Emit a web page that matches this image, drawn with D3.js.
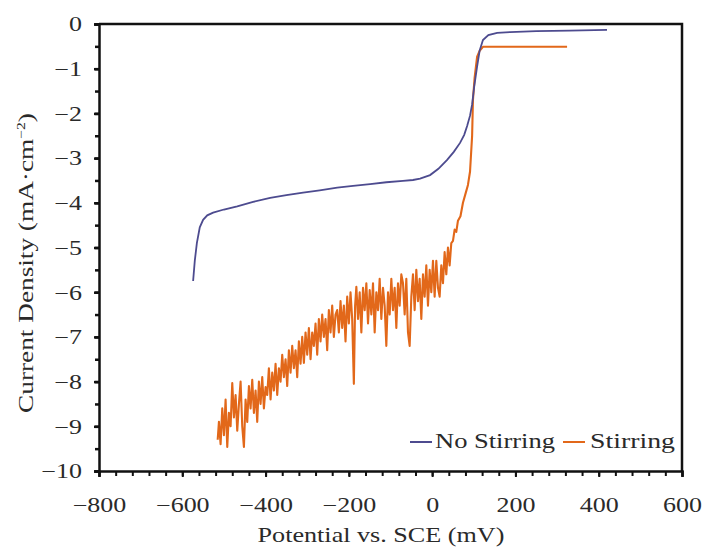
<!DOCTYPE html>
<html>
<head>
<meta charset="utf-8">
<script src="https://cdn.jsdelivr.net/npm/d3@7"></script>
<style>
  body { margin: 0; background: #fff; }
  text { font-family: "Liberation Serif", "DejaVu Serif", serif; fill: #2a2a2a; }
</style>
</head>
<body>
<div id="chart"></div>
<script>
// Potential (mV) vs current density (mA/cm2)
const noStirring = [
  [-574, -5.75], [-570, -5.3], [-565, -4.9], [-558, -4.55], [-550, -4.38], [-540, -4.28],
  [-526, -4.22], [-500, -4.15], [-468, -4.08], [-430, -3.98], [-389, -3.89], [-350, -3.83],
  [-310, -3.77], [-270, -3.72], [-228, -3.66], [-190, -3.62], [-149, -3.58], [-110, -3.54],
  [-70, -3.51], [-46, -3.49], [-29, -3.46], [-5, -3.38], [15, -3.24], [36, -3.04],
  [52, -2.86], [67, -2.66], [77, -2.48], [84, -2.28], [91, -2.05], [96, -1.8],
  [101, -1.4], [108, -0.95], [114, -0.6], [122, -0.36], [135, -0.25], [156, -0.2],
  [187, -0.18], [250, -0.16], [330, -0.15], [420, -0.13]
];

const stirring = [
  [-515, -9.3], [-512, -8.9], [-508, -9.4], [-504, -8.6], [-500, -9.2], [-496, -8.4],
  [-492, -9.46], [-488, -8.7], [-484, -9.0], [-480, -8.03], [-476, -8.8], [-472, -8.3],
  [-468, -9.1], [-464, -8.5], [-460, -8.0], [-456, -9.0], [-452, -9.46], [-448, -8.4],
  [-444, -8.9], [-440, -8.1], [-436, -8.6], [-432, -7.96], [-428, -8.7], [-424, -8.2],
  [-420, -8.9], [-416, -8.0], [-412, -8.5], [-408, -7.9], [-404, -8.6], [-400, -8.12],
  [-396, -8.3], [-392, -7.7], [-388, -8.4], [-384, -7.8], [-380, -8.2], [-376, -7.6],
  [-372, -8.3], [-368, -7.7], [-364, -8.0], [-360, -7.4], [-356, -7.9], [-352, -7.5],
  [-348, -8.1], [-344, -7.3], [-340, -7.8], [-336, -7.2], [-332, -7.7], [-328, -7.3],
  [-324, -7.9], [-320, -7.1], [-316, -7.6], [-312, -7.0], [-308, -7.58], [-304, -6.9],
  [-300, -7.4], [-296, -6.8], [-292, -7.5], [-288, -6.9], [-284, -7.2], [-280, -6.7],
  [-276, -7.4], [-272, -6.6], [-268, -7.1], [-264, -6.5], [-260, -7.0], [-256, -6.6],
  [-252, -7.3], [-248, -6.4], [-244, -6.9], [-240, -6.3], [-236, -7.0], [-232, -6.5],
  [-228, -6.4], [-224, -6.9], [-220, -6.2], [-216, -6.8], [-212, -6.3], [-208, -7.1],
  [-204, -6.1], [-200, -6.7], [-196, -6.0], [-192, -6.6], [-188, -8.05], [-185, -6.3],
  [-182, -5.88], [-178, -6.6], [-174, -6.0], [-170, -6.9], [-166, -5.9], [-162, -6.4],
  [-158, -5.8], [-154, -6.7], [-150, -5.95], [-146, -6.5], [-142, -5.8], [-138, -6.9],
  [-134, -6.0], [-130, -6.4], [-126, -5.7], [-122, -6.6], [-118, -5.9], [-114, -6.3],
  [-110, -7.2], [-106, -6.0], [-102, -6.5], [-98, -5.7], [-94, -6.4], [-90, -5.9],
  [-86, -6.8], [-82, -5.8], [-78, -6.3], [-74, -5.6], [-70, -5.8], [-66, -6.5],
  [-62, -5.7], [-58, -6.9], [-54, -7.2], [-50, -6.1], [-46, -5.6], [-42, -6.4],
  [-38, -5.5], [-34, -6.2], [-30, -5.7], [-26, -6.6], [-22, -5.6], [-18, -6.1],
  [-14, -5.4], [-10, -6.3], [-6, -5.5], [-2, -6.0], [2, -5.3], [6, -6.1],
  [10, -5.3], [14, -5.9], [18, -6.1], [22, -5.4], [26, -5.8], [30, -5.1],
  [34, -5.6], [38, -5.0], [42, -5.4], [46, -4.9], [50, -4.85], [54, -4.6],
  [58, -4.65], [62, -4.4], [68, -4.3], [74, -4.0], [80, -3.8], [86, -3.6],
  [91, -3.3], [96, -2.5], [98, -1.7], [102, -1.2], [108, -0.73], [114, -0.6],
  [122, -0.51], [200, -0.51], [324, -0.51]
];

const xTicks = [-800, -600, -400, -200, 0, 200, 400, 600];
const yTicks = [0, -1, -2, -3, -4, -5, -6, -7, -8, -9, -10];
const seriesNames = ['No Stirring', 'Stirring'];
const seriesColors = ['#4d4b8f', '#e2681a'];

const width = 706, height = 556;
const margin = { top: 24, right: 24, bottom: 85, left: 99 };
const innerW = width - margin.left - margin.right;
const innerH = height - margin.top - margin.bottom;
const stretch = 1.3; // the figure's lettering is wide

const svg = d3.select('#chart').append('svg')
  .attr('width', width)
  .attr('height', height);

const g = svg.append('g')
  .attr('transform', `translate(${margin.left},${margin.top})`);

const x = d3.scaleLinear().domain([-800, 600]).range([0, innerW]);
const y = d3.scaleLinear().domain([-10, 0]).range([innerH, 0]);

const fmt = d => String(d).replace('-', '\u2212');

// fit a text element to a given length by horizontal scaling
function fitWidth(sel, target) {
  const len = sel.node().getComputedTextLength();
  return target / len;
}

// frame (top & right)
g.append('path')
  .attr('d', `M0,0H${innerW}V${innerH}`)
  .attr('fill', 'none')
  .attr('stroke', '#111')
  .attr('stroke-width', 2.5);

// minor ticks
g.append('g')
  .attr('transform', `translate(0,${innerH})`)
  .call(d3.axisBottom(x).tickValues(d3.range(-800, 601, 40)).tickSize(5).tickFormat(''))
  .call(a => a.select('.domain').remove())
  .selectAll('line').attr('stroke', '#111').attr('stroke-width', 2);

g.append('g')
  .call(d3.axisLeft(y).tickValues(d3.range(-10, 0.01, 0.5)).tickSize(4).tickFormat(''))
  .call(a => a.select('.domain').remove())
  .selectAll('line').attr('stroke', '#111').attr('stroke-width', 2.5);

// major axes
const xAxisG = g.append('g')
  .attr('transform', `translate(0,${innerH})`)
  .call(d3.axisBottom(x).tickValues(xTicks).tickSize(6).tickFormat(fmt));
xAxisG.select('.domain').attr('stroke', '#111').attr('stroke-width', 2.5);
xAxisG.selectAll('line').attr('stroke', '#111').attr('stroke-width', 2);
xAxisG.selectAll('text')
  .style('font-size', '20px')
  .attr('fill', '#2a2a2a')
  .attr('dy', null)
  .attr('y', 41)
  .attr('transform', `scale(${stretch},1)`);

const yAxisG = g.append('g')
  .call(d3.axisLeft(y).tickValues(yTicks).tickSize(5).tickFormat(fmt));
yAxisG.select('.domain').attr('stroke', '#111').attr('stroke-width', 2.5);
yAxisG.selectAll('line').attr('stroke', '#111').attr('stroke-width', 2.5);
yAxisG.selectAll('text')
  .style('font-size', '20px')
  .attr('fill', '#2a2a2a')
  .attr('x', -17 / stretch)
  .attr('dy', '0.34em')
  .attr('transform', `scale(${stretch},1)`);

// curves
const line = d3.line().x(d => x(d[0])).y(d => y(d[1]));

g.append('path')
  .datum(stirring)
  .attr('fill', 'none')
  .attr('stroke', seriesColors[1])
  .attr('stroke-width', 2.1)
  .attr('stroke-linejoin', 'round')
  .attr('d', line);

g.append('path')
  .datum(noStirring)
  .attr('fill', 'none')
  .attr('stroke', seriesColors[0])
  .attr('stroke-width', 1.8)
  .attr('d', line);

// legend (positions relative to the plot's lower-right corner)
const legendSpec = [
  { dashX: 311, textX: 336, textW: 120 },
  { dashX: 464, textX: 491, textW: 85 }
];
const legend = g.append('g')
  .attr('transform', `translate(0,${innerH - 29})`);
seriesNames.forEach((name, i) => {
  const s = legendSpec[i];
  legend.append('line')
    .attr('x1', s.dashX).attr('x2', s.dashX + 22)
    .attr('y1', 0).attr('y2', 0)
    .attr('stroke', seriesColors[i])
    .attr('stroke-width', 2);
  const t = legend.append('text')
    .attr('y', 6)
    .style('font-size', '20px')
    .text(name);
  const k = fitWidth(t, s.textW);
  t.attr('transform', `translate(${s.textX},0) scale(${k},1)`);
});

// axis titles
const xTitle = svg.append('text')
  .attr('text-anchor', 'middle')
  .style('font-size', '21px')
  .text('Potential vs. SCE (mV)');
xTitle.attr('transform', `translate(381,542) scale(${fitWidth(xTitle, 247)},1)`);

const yTitle = svg.append('text')
  .attr('text-anchor', 'middle')
  .style('font-size', '21px');
yTitle.append('tspan').text('Current Density (mA\u00b7cm');
yTitle.append('tspan').attr('dy', -8).style('font-size', '12px').text('\u22122');
yTitle.append('tspan').attr('dy', 8).text(')');
yTitle.attr('transform', `translate(33,263) rotate(-90) scale(${fitWidth(yTitle, 300)},1)`);
</script>
</body>
</html>
